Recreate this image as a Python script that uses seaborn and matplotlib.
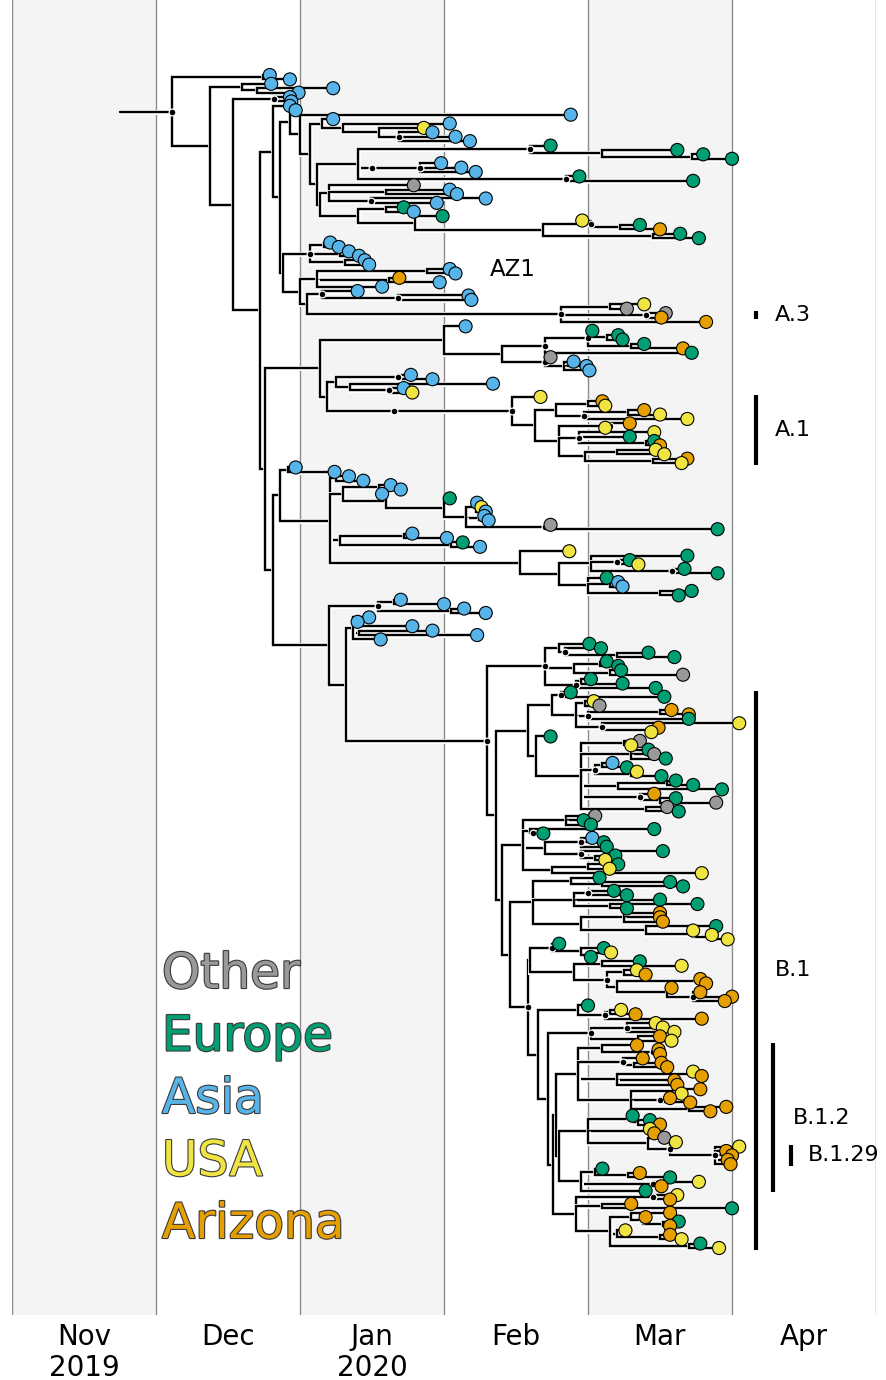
import re
import numpy as np
import pandas as pd
import matplotlib
matplotlib.use("Agg")
import matplotlib.pyplot as plt
import matplotlib.patheffects as pe
from matplotlib.lines import Line2D
import seaborn as sns

# ------------------------------------------------------------------
# Data
# Dates are in months since 1 Nov 2019 (equal-width month axis).
# Leaves: region code + sampling date.  Internal nodes: (...)date,
# "*" marks a node drawn with a dot, "#name" tags a named lineage.
# ------------------------------------------------------------------
REGION_NAMES = ["Other", "Europe", "Asia", "USA", "Arizona"]
REGION_CODES = ["O", "E", "A", "U", "Z"]
REGION_COLORS = ["#999999", "#009E73", "#56B4E9", "#F0E442", "#E69F00"]
MONTH_LABELS = ["Nov\n2019", "Dec", "Jan\n2020", "Feb", "Mar", "Apr"]
SHADED_MONTHS = [0, 2, 4]
ROOT_STEM_DATE = 0.75

T1 = "(A1.79,A1.93)1.74"
TB = "(A1.80,(A2.23,A1.99)1.70)1.60"
BS = "(A1.93,A1.94)*1.82"

G1C = "(A2.23,(A3.04,(U2.86,(A2.92,A3.08,A3.18)*2.69)2.55)2.30)2.15"
G2 = ("((E3.74,(E4.62,(E4.80,E5.00)4.72)4.10)*3.60,"
      "((A2.98,A3.12,A3.22)*2.83)*2.50,(E3.94,E4.73)*3.85)2.40")
G3 = "(O2.79,(A3.04,A3.09)2.60,(A3.29,A2.95)*2.49)2.20"
G4 = ("((E2.72,A2.79)2.60,(E2.99,((U3.96,(E4.36,Z4.50)4.22)*4.02,"
      "(E4.64,E4.77)4.45)3.69)2.80)2.40")
C1 = f"(A3.88,({G1C},({G2},({G3},{G4})2.14)2.12)2.07)2.00"

AZA = "((A2.21,A2.27)2.17,(A2.34,A2.41)2.28,(A2.45,A2.48)2.31)*2.07"
AZB = "((A3.04,A3.08)2.88,(Z2.69,A2.97)2.62,A2.57)2.12"
A3 = "((U4.39,O4.27)4.15,(O4.54,Z4.51)*4.40#A.3,Z4.82)*3.81"
AZC = f"((A2.40,(A3.17,A3.19)*2.68)*2.15,({A3})2.53)2.05"
AZ = f"({AZA},({AZB},{AZC})2.00#AZ1)1.88"

P = ("(A3.15,(((E4.03,(E4.21,E4.24)4.13,(E4.39,Z4.66)4.30)*4.00,E4.72)*3.70,"
     "(O3.74,(A3.90,A3.99,A4.01)3.83)*3.70)3.40)3.00")
A1 = ("(U3.67,(((Z4.10,U4.12)4.00,((Z4.39,U4.50)4.28,U4.69)*3.97)3.78,"
      "((Z4.29,U4.12)*4.15,(U4.46,E4.29,(E4.46,Z4.50)4.40)*3.94,"
      "((U4.47,U4.53)4.20,(Z4.69,U4.65)4.45)3.98)3.80)3.63)*3.47#A.1")
Q = f"(((A2.77,A2.92)*2.68,(A3.34,(A2.72,U2.78)*2.62)2.35)2.25,({A1})*2.65)2.19"

R = ("((A1.97,A2.24)1.92,((A2.34,A2.44)2.25,((A2.63,A2.70)2.55,(A2.57,(E3.04,"
     "((A3.23,U3.26,A3.29)3.22,(A3.28,A3.31)3.24,(O3.74,E4.90)*3.70)3.15)3.00)2.60)2.30,"
     "((A2.78,A3.02)2.72,(E3.13,A3.25)3.05)2.28,(U3.87,((E4.69,(E4.29,U4.35)*4.20,"
     "(E4.67,E4.90)*4.58)4.02,(E4.13,(A4.21,A4.24)4.15,(E4.72,E4.63)4.50)4.00)3.80)3.53)2.21)1.86")
BG1 = "((A2.70,A3.00)2.65,(A3.14,A3.29)3.05)*2.54"
BG2 = "(A2.48,(A2.40,A2.78)2.39,(A2.92,A3.23)2.41,A2.56)2.37"

BTOP_U = ("((E4.01,(E4.09,(E4.42,E4.60)4.20)*3.84)3.80,((E4.13,E4.21)4.08,"
          "(E4.23,O4.66)4.15)3.90,((E4.02,E4.24)3.95,E4.47)*3.92)*3.70")
BTOP_L = ("(((E3.88,E4.53)*3.81,((U4.04,O4.08)3.98,((Z4.58,Z4.70)4.50,E4.70)*4.00,"
          "(U5.05,(Z4.49,U4.44)*4.43)*4.10)3.92)3.75,(E3.74,((O4.36,U4.30)4.25,"
          "(E4.42,O4.46,E4.54)4.30,((A4.17,E4.27)4.10,(U4.34,E4.51)4.30)*4.05,"
          "((E4.61,E4.73)4.55,E4.93)4.21,(Z4.46,(E4.61,O4.89)4.50)*4.36,"
          "(O4.55,E4.63)4.40)3.95)3.64)3.58")
BB1 = ("((O4.05,E3.97,E4.02)3.85,(E4.46,(E3.69)*3.62)3.60,((A4.03,E4.11,E4.13)*3.95,"
       "(E4.52,(E4.19,U4.12)4.05)*3.95)3.70,((E4.21,U4.15)4.00,(U4.79)3.90)3.75)3.55")
BB3 = ("((E4.08,(E4.57,E4.66)4.10)3.88,((E4.18,E4.27)*4.00,E4.50,(E4.76,E4.27)4.15)3.90,"
       "((Z4.50,Z4.50,Z4.52)4.25,(E4.89,(U4.73,(U4.86,U4.97)*4.85)*4.72)4.40)3.95)3.62")
BB5 = ("((E3.80,(E4.11,(U4.16,E4.02)*4.01)3.95)*3.75,((E4.36,U4.65)4.10,"
       "((U4.34,Z4.40)4.25,((Z4.78,Z4.82)*4.76,(Z4.58,(Z4.78,Z5.00,Z4.95)*4.73)4.55)4.20)*4.13)3.90)3.60")
L1 = "(E4.00,((U4.23,Z4.33)4.15,Z4.79)*4.12)3.93"
L3 = "((U4.47,U4.52,U4.60)*4.27,(Z4.50,U4.58)4.35)*4.02"
L5 = ("((Z4.34,(Z4.49,Z4.50)*4.45)4.10,(Z4.38,(Z4.51,Z4.55)4.32)*4.24,"
      "((U4.73,Z4.79)*4.72,Z4.60,Z4.62)4.20,((Z4.78,U4.65)*4.62,(Z4.57,Z4.71)*4.50,"
      "(Z4.96,Z4.85)4.70)4.30)3.93")
L7 = ("((E4.31,(E4.43,Z4.50)4.35)*4.29,(U4.43,Z4.46)4.40,(O4.53,(U4.61,"
      "(U5.05,Z4.96,Z5.00,Z4.97,Z4.99)*4.88#B.1.29)*4.57)4.42)4.00")
L8A = "((E4.10,(Z4.36,E4.57)4.28)4.05,(U4.77,Z4.51)*4.45,E4.40)3.95"
L8B = ("((U4.62,Z4.57)*4.45,(Z4.30,E5.00)4.10,((Z4.57,(Z4.40,(E4.63,Z4.57)4.52)*4.38)4.30,"
       "(U4.26,(Z4.57,U4.65)4.50)4.20,(E4.78,U4.91)4.70)4.15)3.92")
BB6 = f"({L1},({L3},(({L5},({L7},{L8A})3.80)3.78#B.1.2,{L8B})3.76)3.72)3.65"
BBOT = f"({BB1},({BB3},({BB5},{BB6})*3.58)3.46)3.40"
B = f"({BTOP_U},({BTOP_L},{BBOT})3.36#B.1)*3.30"

YUP = f"({P},{Q})2.14"
YDOWN = f"({R},({BG1},({BG2},{B})2.32)2.20)1.81"
N280 = f"((A1.97,{C1})1.93,{AZ})1.86"
TREE = f"({T1},({TB},({BS},((A1.93,{N280})1.81,({YUP},{YDOWN})1.76)1.72)1.535)1.375)*1.11"


# ------------------------------------------------------------------
# Tree parsing and layout
# ------------------------------------------------------------------
def parse_tree(text):
    text = re.sub(r"\s+", "", text)
    num_re = re.compile(r"\d+(?:\.\d+)?")
    tag_re = re.compile(r"#([A-Za-z0-9.]+)")
    pos = 0

    def read_num():
        nonlocal pos
        m = num_re.match(text, pos)
        pos = m.end()
        return float(m.group())

    def read_node():
        nonlocal pos
        if text[pos] == "(":
            pos += 1
            kids = [read_node()]
            while text[pos] == ",":
                pos += 1
                kids.append(read_node())
            pos += 1
            dot = text[pos] == "*"
            if dot:
                pos += 1
            date = read_num()
            tag = None
            m = tag_re.match(text, pos)
            if m:
                tag = m.group(1)
                pos = m.end()
            return {"kids": kids, "date": date, "dot": dot, "tag": tag}
        region = text[pos]
        pos += 1
        return {"region": region, "date": read_num()}

    return read_node()


root = parse_tree(TREE)
tip_rows, dot_rows, elbows, lineage_span = [], [], [], {}


def assign_y(node, counter=[0]):
    if "kids" not in node:
        node["y"] = float(counter[0])
        node["ymin"] = node["ymax"] = node["y"]
        counter[0] += 1
        return
    for k in node["kids"]:
        assign_y(k)
    node["y"] = 0.5 * (node["kids"][0]["y"] + node["kids"][-1]["y"])
    node["ymin"] = min(k["ymin"] for k in node["kids"])
    node["ymax"] = max(k["ymax"] for k in node["kids"])


def collect(node):
    if "kids" not in node:
        tip_rows.append((node["date"], node["y"], node["region"]))
        return
    if node["dot"]:
        dot_rows.append((node["date"], node["y"]))
    if node["tag"]:
        lineage_span[node["tag"]] = (node["ymin"], node["ymax"], node["y"])
    for k in node["kids"]:
        elbows.append(([node["date"], node["date"], k["date"]],
                       [node["y"], k["y"], k["y"]]))
        collect(k)


assign_y(root)
collect(root)
n_tips = len(tip_rows)
tips = pd.DataFrame(tip_rows, columns=["date", "y", "code"])
tips["region"] = tips["code"].map(dict(zip(REGION_CODES, REGION_NAMES)))
dots = pd.DataFrame(dot_rows, columns=["date", "y"])

# ------------------------------------------------------------------
# Figure
# ------------------------------------------------------------------
sns.set_theme(style="white")
plt.rcParams["font.family"] = ["DejaVu Sans"]
plt.rcParams["text.color"] = "black"
plt.rcParams["xtick.color"] = "black"

W, H = 886, 1380
fig = plt.figure(figsize=(W / 100, H / 100), dpi=100)
ax = fig.add_axes([12 / W, 1 - 1315 / H, 864 / W, 1315 / H])

step = (1248 - 75) / (n_tips - 1)
ax.set_xlim(0, 6)
ax.set_ylim((1315 - 75) / step, -75 / step)

for m in SHADED_MONTHS:
    ax.axvspan(m, m + 1, color="#f4f4f4", zorder=0, lw=0)
for m in range(7):
    ax.axvline(m, color="#8c8c8c", lw=1.0, zorder=0.5)

# branches: black with a white halo, drawn parent-first
halo = [pe.Stroke(linewidth=3.6, foreground="white"), pe.Normal()]
ax.add_line(Line2D([ROOT_STEM_DATE, root["date"]], [root["y"], root["y"]],
                   color="black", lw=1.7, zorder=2, path_effects=halo))
for xs, ys in elbows:
    ax.add_line(Line2D(xs, ys, color="black", lw=1.7, zorder=2,
                       solid_joinstyle="miter", solid_capstyle="butt",
                       path_effects=halo))

sns.scatterplot(data=dots, x="date", y="y", color="black", s=24,
                edgecolor="white", linewidth=0.9, zorder=3, ax=ax, legend=False)
palette = dict(zip(REGION_NAMES, REGION_COLORS))
sns.scatterplot(data=tips, x="date", y="y", hue="region", palette=palette,
                s=88, edgecolor="black", linewidth=0.8, zorder=4, ax=ax,
                legend=False)

# lineage bars
bar_x = {"A.3": 5.17, "A.1": 5.17, "B.1": 5.17, "B.1.2": 5.285, "B.1.29": 5.41}
label_x = {"A.3": 5.30, "A.1": 5.30, "B.1": 5.30, "B.1.2": 5.42, "B.1.29": 5.53}
for name in ["A.3", "A.1", "B.1", "B.1.2", "B.1.29"]:
    y0, y1, _ = lineage_span[name]
    ax.plot([bar_x[name], bar_x[name]], [y0 - 0.4, y1 + 0.4], color="black",
            lw=3.0, solid_capstyle="butt", zorder=5)
    ax.text(label_x[name], 0.5 * (y0 + y1), name, fontsize=16, va="center",
            ha="left", color="black", clip_on=False)

az_span = lineage_span["AZ1"]
ax.text(3.32, az_span[0], "AZ1", fontsize=16.5, va="center", ha="left",
        color="black")

ax.set_xticks(np.arange(6) + 0.5)
ax.set_xticklabels(MONTH_LABELS, fontsize=20, linespacing=1.1, color="black")
ax.tick_params(axis="x", length=0, pad=6)
ax.set_yticks([])
ax.set_xlabel("")
ax.set_ylabel("")
for s in ax.spines.values():
    s.set_visible(False)

# region key
for i, (name, col) in enumerate(zip(REGION_NAMES, REGION_COLORS)):
    fig.text(162 / W, 1 - (988 + 62.5 * i) / H, name, fontsize=35, color=col,
             va="baseline", ha="left",
             path_effects=[pe.withStroke(linewidth=1.6, foreground="#3a3a3a")])

fig.savefig("out.png", dpi=100)
